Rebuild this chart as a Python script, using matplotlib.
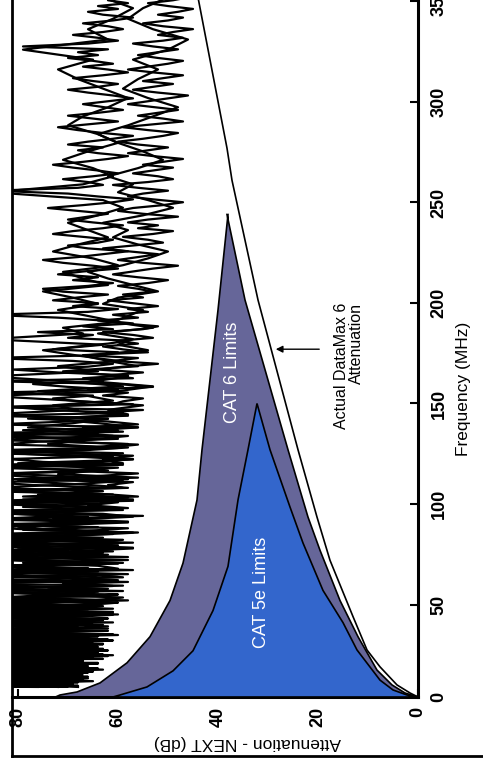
import numpy as np
import matplotlib.pyplot as plt
from matplotlib.lines import Line2D

plt.rcParams['font.family'] = ['Liberation Sans', 'DejaVu Sans']

# measured pair-to-pair NEXT traces (dB), one value per sweep point
# traces a, b: log sweep
next_trace_a = [
    84, 70, 86, 74, 68, 82, 77, 86, 69, 80, 73, 86, 71, 78, 85, 68, 83, 75, 86, 70,
    79, 86, 67, 82, 73, 86, 69, 77, 85, 66, 81, 74, 86, 68, 76, 84, 67, 86, 72, 80,
    65, 85, 75, 86, 68, 79, 64, 83, 86, 71, 66, 84, 77, 86, 64, 80, 72, 86, 67, 82,
    86, 63, 76, 85, 69, 62, 83, 86, 73, 65, 80, 86, 62, 78, 70, 86, 64, 84, 75, 63,
    82, 86, 67, 61, 79, 86, 72, 64, 85, 61, 76, 86, 68, 82, 62, 74, 86, 65, 80, 61,
    86, 70, 62, 84, 77, 60, 86, 66, 81, 61, 73, 86, 64, 60, 83, 75, 86, 62, 69, 85,
    59, 78, 86, 63, 71, 58, 84, 86, 65, 60, 80, 57, 74, 86, 62, 68, 85, 58, 77, 63,
    86, 57, 70, 82, 60, 86, 66, 56, 79, 64, 86, 58, 73, 55, 84, 62, 68, 86, 57, 75,
    61, 86, 58, 67, 80, 56, 72, 64, 86, 59, 63, 57, 78, 66, 58, 85, 61, 70, 56, 64,
    74, 58, 62, 55, 69, 86, 60, 53, 65, 58, 71, 56, 62, 67, 54, 60, 57, 64, 53, 61,
    58, 55, 63, 60, 52, 57, 62, 66, 59, 54, 50, 56, 61, 58, 63, 55, 49, 54, 60, 57,
    62, 56, 51, 55, 60, 64, 58, 53, 48, 54, 59, 56, 52, 57, 50, 46, 53, 58, 55, 50,
]
next_trace_b = [
    76, 86, 72, 80, 86, 69, 84, 78, 71, 86, 75, 82, 69, 86, 74, 79, 86, 70, 83, 77,
    86, 71, 84, 68, 80, 86, 75, 70, 86, 78, 67, 85, 73, 82, 86, 69, 77, 86, 66, 84,
    74, 86, 69, 81, 86, 65, 78, 72, 86, 67, 83, 86, 70, 75, 86, 64, 82, 78, 86, 69,
    80, 70, 86, 65, 84, 77, 86, 63, 72, 86, 81, 67, 86, 74, 63, 85, 79, 68, 86, 71,
    65, 86, 75, 83, 62, 86, 70, 79, 86, 66, 84, 72, 62, 86, 77, 68, 85, 63, 81, 86,
    72, 63, 86, 79, 68, 85, 61, 76, 86, 70, 82, 65, 86, 74, 63, 80, 86, 67, 60, 84,
    86, 67, 74, 59, 86, 81, 64, 70, 86, 58, 77, 86, 66, 83, 60, 75, 86, 69, 62, 86,
    70, 80, 60, 86, 74, 63, 86, 57, 77, 86, 68, 62, 84, 71, 86, 59, 79, 64, 86, 58,
    76, 63, 86, 70, 59, 75, 86, 62, 68, 80, 57, 72, 86, 60, 74, 66, 86, 59, 78, 69,
    62, 86, 68, 73, 61, 66, 76, 59, 70, 86, 64, 72, 60, 68, 75, 63, 86, 67, 71, 60,
    66, 72, 64, 69, 75, 62, 67, 71, 60, 65, 73, 68, 62, 66, 70, 64, 59, 63, 85, 67,
    61, 65, 71, 66, 60, 64, 70, 67, 62, 58, 63, 68, 72, 65, 79, 62, 66, 61, 57, 63,
]
# traces c, d: linear sweep
next_trace_c = [
    72, 86, 65, 81, 76, 86, 63, 84, 70, 78, 86, 61, 83, 74, 86, 67, 80, 85, 60, 77,
    86, 69, 82, 63, 85, 75, 61, 86, 66, 80, 58, 84, 72, 86, 62, 79, 85, 60, 71, 86,
    64, 78, 86, 59, 82, 67, 85, 61, 76, 86, 57, 83, 69, 86, 62, 80, 74, 58, 86, 66,
    81, 85, 60, 72, 86, 57, 79, 65, 85, 62, 77, 86, 58, 70, 84, 63, 86, 59, 75, 82,
    61, 86, 67, 58, 83, 76, 60, 86, 64, 79, 56, 85, 70, 62, 86, 59, 74, 81, 57, 68,
    73, 65, 86, 60, 70, 77, 63, 67, 58, 72, 81, 66, 61, 69, 86, 64, 60, 73, 68, 62,
    58, 70, 65, 76, 61, 67, 57, 63, 72, 86, 66, 60, 69, 64, 73, 68, 62, 71, 75, 66,
    61, 69, 64, 72, 67, 60, 65, 71, 75, 68, 63, 58, 66, 70, 64, 61, 67, 73, 69, 63,
    59, 65, 70, 66, 62, 68, 74, 67, 61, 57, 64, 70, 85, 68, 63, 66, 71, 65, 60, 64,
    69, 73, 67, 62, 58, 64, 68, 63, 70, 66, 61, 57, 63, 68, 72, 66, 60, 65, 70, 64,
    59, 63, 67, 62, 57, 61, 66, 70, 64, 60, 65, 69, 63, 58, 62, 67, 61, 65, 70, 64,
    68, 62, 79, 66, 60, 64, 69, 63, 59, 62, 67, 61, 57, 63, 66, 60, 64, 58, 62, 59,
]
next_trace_d = [
    68, 82, 74, 66, 86, 71, 65, 80, 84, 67, 73, 86, 64, 70, 81, 63, 86, 68, 64, 83,
    70, 62, 86, 66, 72, 61, 84, 68, 63, 86, 65, 59, 77, 64, 86, 61, 67, 82, 59, 66,
    85, 60, 64, 79, 58, 86, 63, 70, 57, 82, 64, 59, 86, 61, 67, 58, 83, 62, 69, 57,
    63, 86, 58, 66, 60, 79, 56, 64, 86, 59, 62, 57, 81, 65, 56, 71, 60, 84, 63, 57,
    66, 59, 86, 62, 56, 70, 64, 58, 85, 60, 67, 56, 62, 78, 58, 64, 55, 86, 61, 59,
    55, 63, 58, 66, 53, 60, 86, 57, 62, 55, 64, 59, 52, 61, 56, 67, 54, 59, 63, 56,
    60, 53, 57, 63, 55, 52, 59, 64, 56, 61, 54, 58, 52, 57, 62, 55, 59, 53, 56, 60,
    54, 50, 56, 61, 57, 53, 48, 55, 60, 56, 52, 58, 63, 57, 51, 54, 59, 53, 49, 56,
    52, 58, 54, 48, 55, 60, 57, 51, 47, 53, 58, 55, 50, 56, 61, 54, 49, 52, 57, 53,
    49, 55, 51, 47, 53, 58, 54, 50, 56, 60, 55, 51, 48, 54, 59, 53, 47, 51, 56, 52,
    48, 53, 58, 54, 50, 46, 52, 57, 53, 49, 55, 51, 47, 53, 58, 54, 50, 47, 52, 56,
    52, 48, 53, 57, 51, 47, 52, 49, 45, 51, 55, 50, 47, 52, 48, 45, 50, 54, 49, 46,
]
sweep_log_mhz = np.geomspace(9, 352, len(next_trace_a))
sweep_lin_mhz = np.linspace(9, 352, len(next_trace_c))

# CAT 6 limits: NEXT from low to high freq, then attenuation back down
cat6_next_mhz = [4, 5, 6.5, 11, 21, 34, 52, 70.6, 102, 127, 196.5, 244]
cat6_next_db = [72.5, 71.6, 68.2, 63.6, 58.2, 53.6, 49.6, 47, 44.2, 43.2, 40, 38]
cat6_att_mhz = [244, 201.5, 127, 93.5, 77, 52, 34, 17.4, 10, 6, 4]
cat6_att_db = [38.2, 34.6, 26, 22, 19.6, 15.6, 12, 8.2, 5.2, 2.6, 0]

# CAT 5e limits
cat5e_next_mhz = [4, 5, 9, 17, 27, 47, 69, 102, 127, 150]
cat5e_next_db = [61, 59.6, 54.2, 49, 45, 41, 38, 36, 34, 32.2]
cat5e_att_mhz = [150, 127, 98.5, 80.6, 57, 41, 27.4, 12.4, 7.5, 5, 4]
cat5e_att_db = [32.2, 29.6, 25.6, 23, 19, 15, 12.2, 7.6, 5, 2.2, 0]

# actual DataMax 6 attenuation
actual_mhz = [4, 6, 10, 19, 27.4, 44, 72, 93.5, 127, 201.5, 261, 277, 352]
actual_db = [0, 1.6, 4.2, 7.6, 10.2, 13, 17.6, 20.2, 24, 32, 37.2, 38.2, 44]

freq_ticks = [4, 50, 100, 150, 200, 250, 300, 350]
freq_tick_labels = ['0', '50', '100', '150', '200', '250', '300', '350']
att_ticks = [80, 60, 40, 20, 0]

fig = plt.figure(figsize=(4.83, 7.71), dpi=100)
ax = fig.add_axes([12 / 483, 74 / 771, 406 / 483, 697 / 771])

for trace in (next_trace_a, next_trace_b):
    ax.plot(trace, sweep_log_mhz, color='black', lw=1.6, zorder=1)
for trace in (next_trace_c, next_trace_d):
    ax.plot(trace, sweep_lin_mhz, color='black', lw=1.6, zorder=1)

ax.fill(cat6_next_db + cat6_att_db, cat6_next_mhz + cat6_att_mhz,
        facecolor='#666699', edgecolor='black', lw=1.2, zorder=2)
ax.fill(cat5e_next_db + cat5e_att_db, cat5e_next_mhz + cat5e_att_mhz,
        facecolor='#3366CC', edgecolor='black', lw=1.2, zorder=3)
ax.plot(actual_db, actual_mhz, color='black', lw=1.2, zorder=4)

ax.text(37, 165.7, 'CAT 6 Limits', color='white', fontsize=13,
        rotation=90, ha='center', va='center', zorder=5)
ax.text(31.2, 56.2, 'CAT 5e Limits', color='white', fontsize=13,
        rotation=90, ha='center', va='center', zorder=5)
ax.text(13.8, 200, 'Actual DataMax 6\nAttenuation', fontsize=11.5,
        rotation=90, ha='center', va='top', multialignment='right',
        linespacing=1.05, zorder=5)
ax.annotate('', xy=(29, 177), xytext=(19.2, 177),
            arrowprops=dict(arrowstyle='-|>', color='black', lw=1,
                            mutation_scale=10), zorder=5)

ax.set_xlim(81.2, 0)
ax.set_ylim(4, 350.7)

ax.spines['left'].set_visible(False)
ax.spines['top'].set_visible(False)
ax.spines['bottom'].set_linewidth(2.2)
ax.spines['right'].set_linewidth(2.2)

ax.yaxis.tick_right()
ax.set_yticks(freq_ticks)
ax.set_yticklabels(freq_tick_labels)
ax.set_xticks(att_ticks)
ax.tick_params(axis='y', direction='in', length=6, width=1.5, pad=9,
               labelsize=13, labelrotation=90)
ax.tick_params(axis='x', direction='in', length=6, width=1.5, pad=7,
               labelsize=13, labelrotation=90)
for lbl in ax.get_yticklabels():
    lbl.set_fontweight('bold')
    lbl.set_va('center')
for lbl in ax.get_xticklabels():
    lbl.set_fontweight('bold')

ax.set_xlabel('Attenuation - NEXT (dB)', fontsize=12.5, rotation=180,
              va='center', ha='center')
ax.xaxis.set_label_coords(0.579, -0.0646)
ax.yaxis.set_label_position('right')
ax.set_ylabel('Frequency (MHz)', fontsize=12.5, rotation=90,
              va='center', ha='center')
ax.yaxis.set_label_coords(1.111, 0.442)

# page frame
fig.add_artist(Line2D([12 / 483, 12 / 483], [15 / 771, 1],
                      transform=fig.transFigure, color='black', lw=2))
fig.add_artist(Line2D([12 / 483, 1], [15 / 771, 15 / 771],
                      transform=fig.transFigure, color='black', lw=2))

fig.savefig('out.png', dpi=100)
